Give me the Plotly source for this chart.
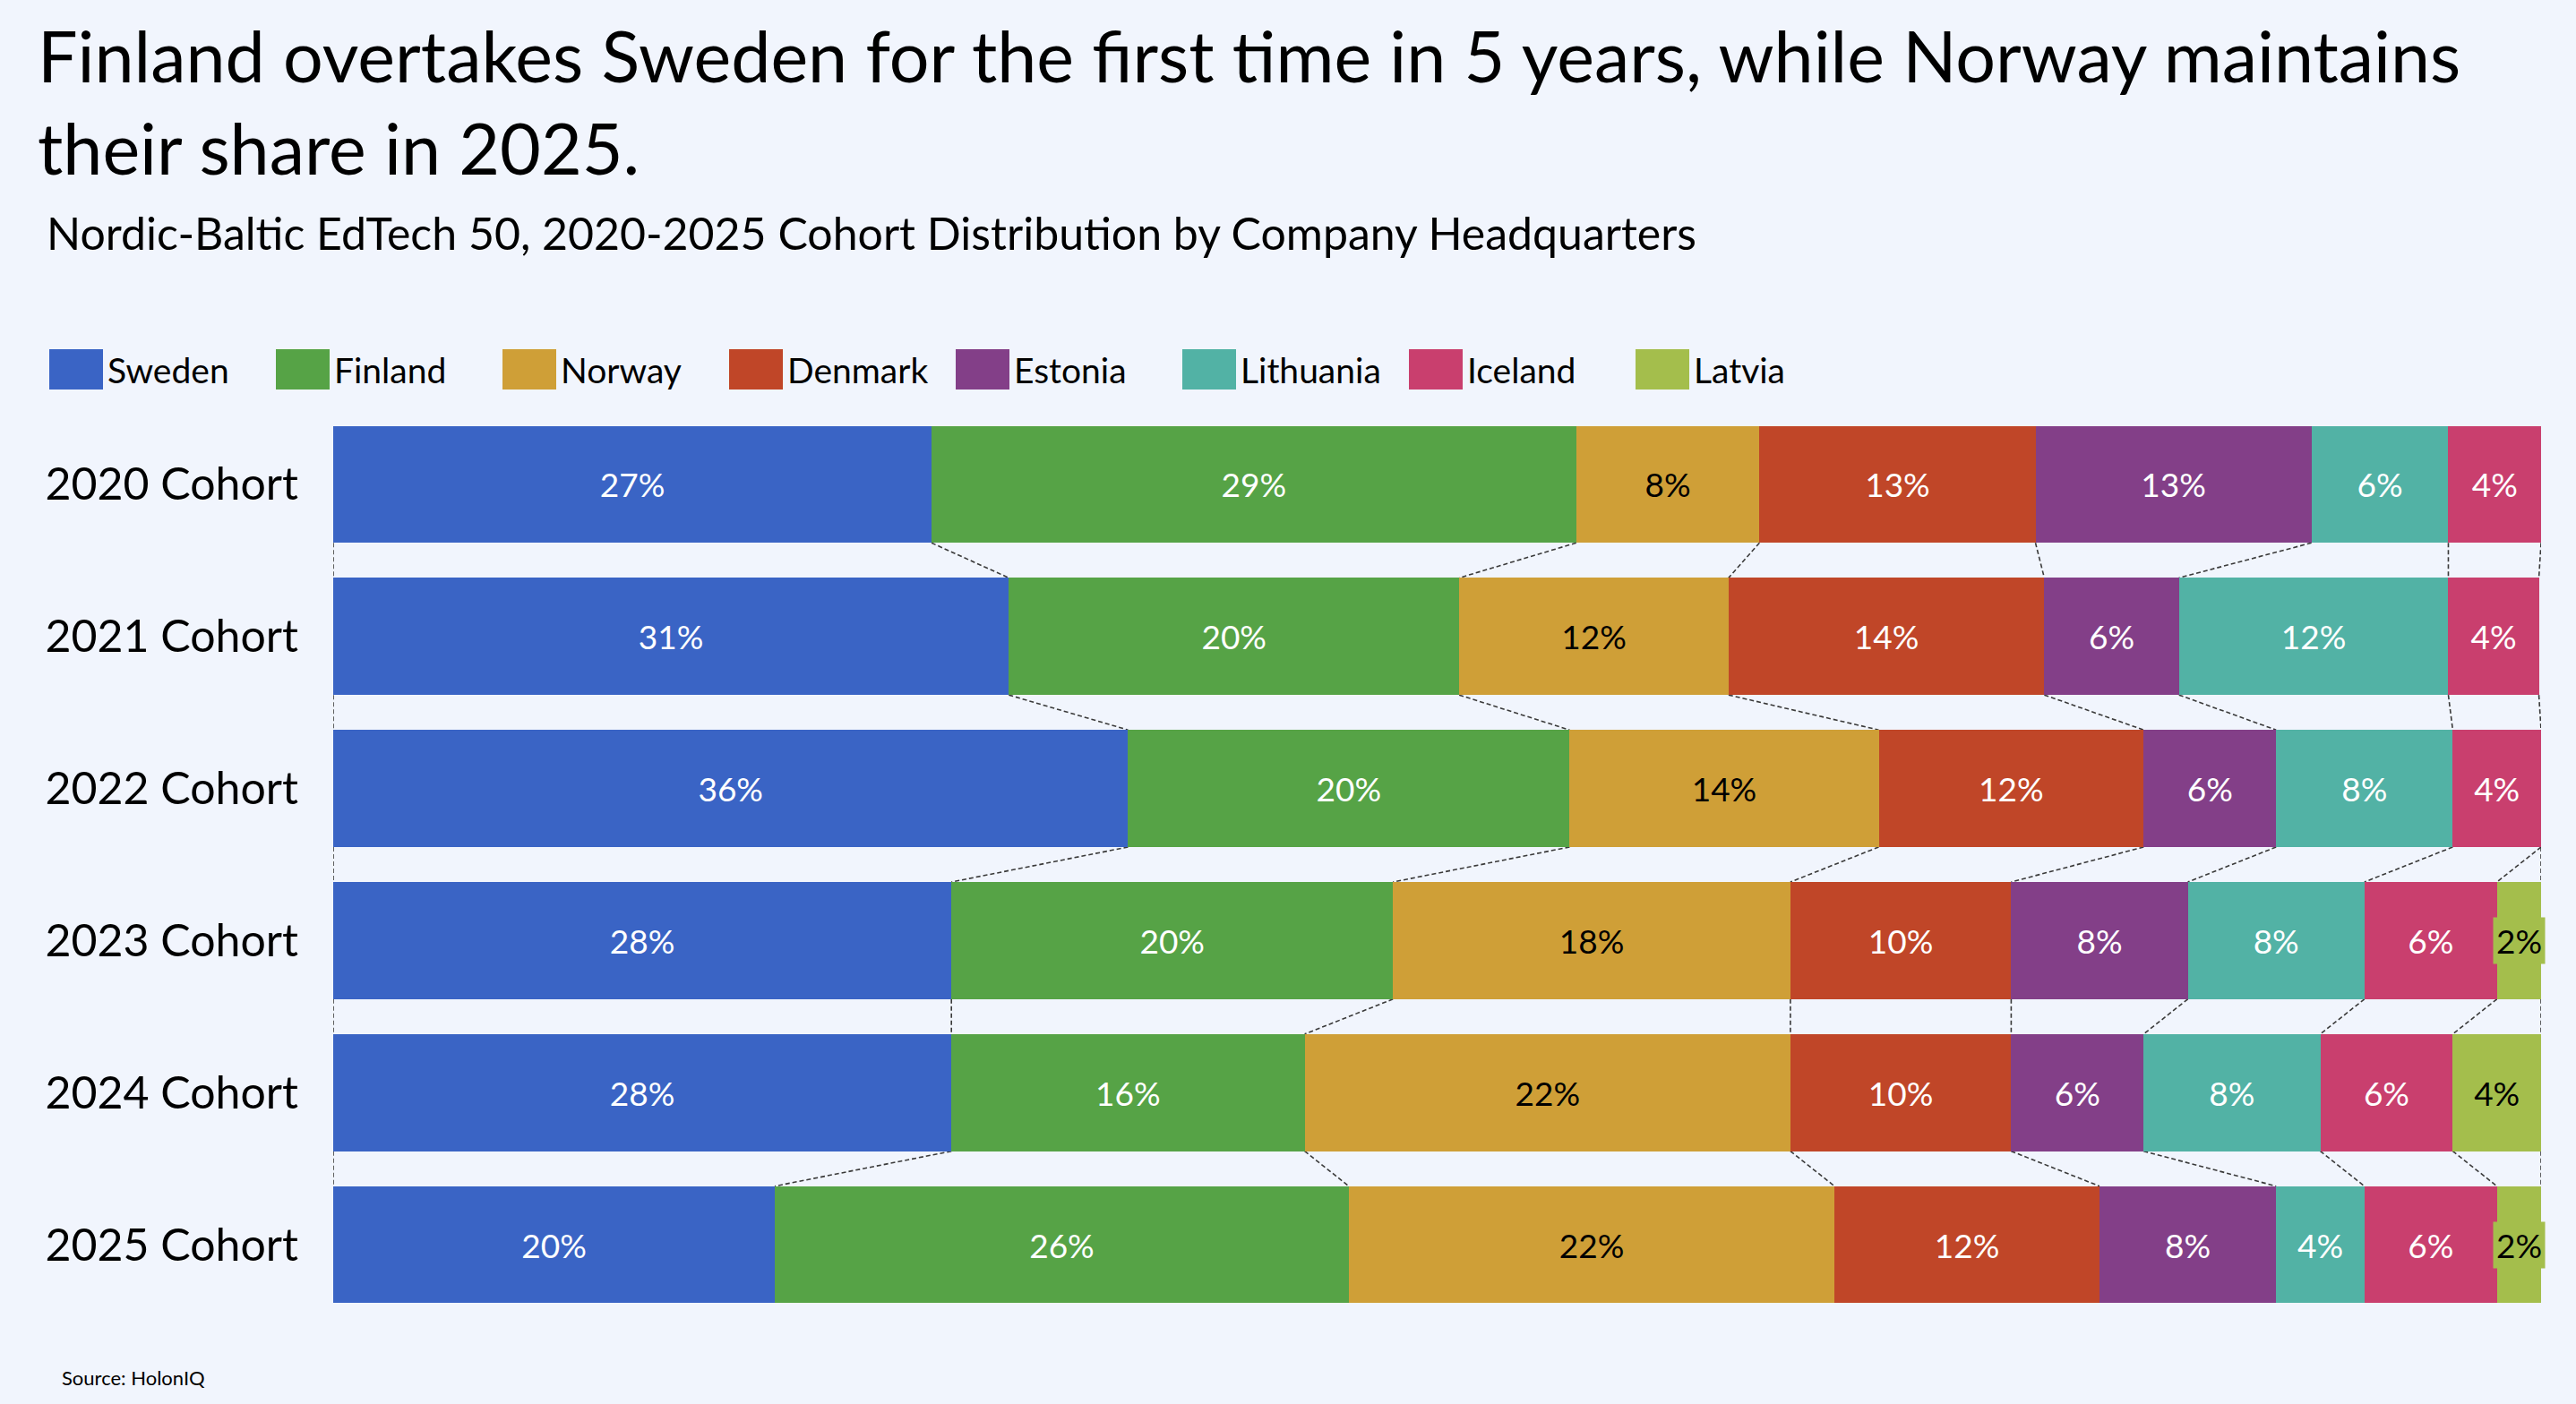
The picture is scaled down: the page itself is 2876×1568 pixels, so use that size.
import math
import plotly.graph_objects as go

# ---------------- data ----------------
cohorts = ["2020 Cohort", "2021 Cohort", "2022 Cohort", "2023 Cohort", "2024 Cohort", "2025 Cohort"]
countries = ["Sweden", "Finland", "Norway", "Denmark", "Estonia", "Lithuania", "Iceland", "Latvia"]

sweden = [27.1, 30.6, 36, 28, 28, 20]
finland = [29.2, 20.4, 20, 20, 16, 26]
norway = [8.3, 12.2, 14, 18, 22, 22]
denmark = [12.5, 14.3, 12, 10, 10, 12]
estonia = [12.5, 6.1, 6, 8, 6, 8]
lithuania = [6.2, 12.2, 8, 8, 8, 4]
iceland = [4.2, 4.1, 4, 6, 6, 6]
latvia = [0, 0, 0, 2, 4, 2]

series = [sweden, finland, norway, denmark, estonia, lithuania, iceland, latvia]

colors = ["#3A64C5", "#56A346", "#CF9F37", "#C04628", "#833F88", "#52B2A5", "#C93F6E", "#A4BE4C"]
text_colors = ["white", "white", "black", "white", "white", "white", "white", "black"]

title_text = ("Finland overtakes Sweden for the first time in 5 years, while Norway maintains"
              "<br>their share in 2025.")
subtitle_text = "Nordic-Baltic EdTech 50, 2020-2025 Cohort Distribution by Company Headquarters"
source_text = "Source: HolonIQ"

FONT = "Lato"
BG = "#F1F5FD"
BARGAP = 0.23


def label(v):
    return f"{math.floor(v + 0.5)}%"


fig = go.Figure()
for name, vals, col, tcol in zip(countries, series, colors, text_colors):
    txt = [label(v) if v >= 3 else "" for v in vals]
    fig.add_trace(go.Bar(
        name=name, y=cohorts, x=vals, orientation="h",
        marker=dict(color=col, line=dict(width=0)),
        text=txt, textposition="inside", insidetextanchor="middle", textangle=0,
        textfont=dict(color=tcol, size=37, family=FONT),
        hoverinfo="x+y+name",
    ))

# cumulative boundaries per cohort
cums = []
for r in range(len(cohorts)):
    c = [0.0]
    for s in series:
        c.append(c[-1] + s[r])
    cums.append(c)

half = (1 - BARGAP) / 2
shapes = []
for r in range(len(cohorts) - 1):
    seen = set()
    for k in range(len(cums[r])):
        a, b = cums[r][k], cums[r + 1][k]
        key = (round(a, 3), round(b, 3))
        if key in seen:
            continue
        seen.add(key)
        shapes.append(dict(type="line", xref="x", yref="y",
                           x0=a, y0=r + half, x1=b, y1=r + 1 - half,
                           line=dict(color="#3a3a3a", width=1.6, dash="5px,3px"),
                           layer="below"))

annotations = []
# small-segment labels with filled background
for r in range(len(cohorts)):
    for k, s in enumerate(series):
        v = s[r]
        if 0 < v < 3:
            annotations.append(dict(
                x=cums[r][k] + v / 2, y=cohorts[r], xref="x", yref="y",
                text=label(v), showarrow=False,
                font=dict(color=text_colors[k], size=37, family=FONT),
                bgcolor=colors[k], borderpad=3,
            ))

# plot area geometry (px)
W, H = 2876, 1568
L, R = 372, 2837
T, B = 455.5, 1475.5


def xp(px):
    return (px - L) / (R - L)


def yp(py):
    return (B - py) / (B - T)


annotations += [
    dict(text=title_text, x=xp(40), y=yp(112), xref="paper", yref="paper",
         xanchor="left", yanchor="middle", align="left", showarrow=False,
         font=dict(size=79, color="black", family=FONT)),
    dict(text=subtitle_text, x=xp(50), y=yp(259), xref="paper", yref="paper",
         xanchor="left", yanchor="middle", align="left", showarrow=False,
         font=dict(size=50, color="black", family=FONT)),
    dict(text=source_text, x=xp(67), y=yp(1539), xref="paper", yref="paper",
         xanchor="left", yanchor="middle", align="left", showarrow=False,
         font=dict(size=22, color="black", family=FONT)),
]

fig.update_layout(
    width=W, height=H,
    barmode="stack", bargap=BARGAP,
    paper_bgcolor=BG, plot_bgcolor=BG,
    margin=dict(l=L, r=W - R, t=T, b=H - B, pad=0),
    font=dict(family=FONT, color="black"),
    showlegend=True,
    legend=dict(orientation="h", x=xp(50), y=yp(412), xanchor="left", yanchor="middle",
                font=dict(size=39, family=FONT, color="black"),
                itemwidth=60, entrywidth=178, entrywidthmode="pixels",
                bgcolor="rgba(0,0,0,0)", traceorder="normal"),
    xaxis=dict(range=[0, 100], visible=False, fixedrange=True),
    yaxis=dict(range=[len(cohorts) - 0.5, -0.5], type="category", showgrid=False,
               zeroline=False, showline=False, ticks="",
               tickfont=dict(size=50, family=FONT, color="black"),
               ticklabelstandoff=38, fixedrange=True),
    shapes=shapes,
    annotations=annotations,
    uniformtext=dict(minsize=37, mode="show"),
)

post = """
document.body.style.margin = '0';
var gd = document.getElementById('{plot_id}');
function fixLegend(){
  var paths = gd.querySelectorAll('.legend .legendpoints path');
  paths.forEach(function(p){
    p.setAttribute('d', 'M30,22.5H-30V-22.5H30Z');
  });
}
fixLegend();
setTimeout(fixLegend, 50);
setTimeout(fixLegend, 300);
if (gd.on) { gd.on('plotly_afterplot', fixLegend); }
"""

fig.write_html("out.html", post_script=post, config={"displayModeBar": False})
